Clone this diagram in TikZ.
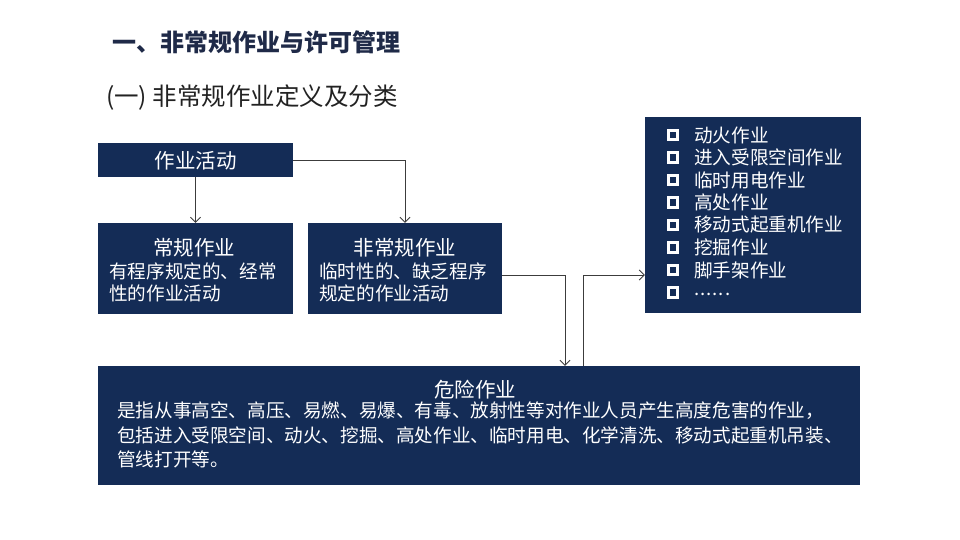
\documentclass[tikz,border=0pt]{standalone}
\usepackage{fontspec}
\setmainfont{Noto Sans CJK SC}
\usetikzlibrary{arrows.meta}
\definecolor{navy}{RGB}{20,44,86}
\definecolor{titlec}{RGB}{31,42,72}
\definecolor{subc}{RGB}{34,34,34}
\definecolor{linec}{RGB}{60,60,60}
\begin{document}
\begin{tikzpicture}[x=1pt,y=-1pt,
  box/.style={fill=navy, draw=none, inner sep=0},
  ltext/.style={text=white, inner sep=0, anchor=west, font=\fontsize{18.6}{22.5}\selectfont},
  htext/.style={text=white, inner sep=0, font=\fontsize{20.5}{24}\selectfont},
  conn/.style={draw=linec, line width=0.8pt, -{Straight Barb[length=5pt,width=10pt]}},
  chk/.style={draw=white, line width=2.6pt, minimum size=9.5pt, inner sep=0},
]
\useasboundingbox (0,0) rectangle (960,540);

% titles
\node[anchor=west, inner sep=0, text=titlec, font=\bfseries\fontsize{24}{28}\selectfont] (title) at (112,42) {一、非常规作业与许可管理};
\node[anchor=west, inner sep=0, text=subc, font=\fontsize{24.5}{30}\selectfont] (sub) at (106,98) {(一) 非常规作业定义及分类};

% boxes
\node[box, minimum width=195pt, minimum height=34pt] (act) at (195.5,160) {};
\node[box, minimum width=195pt, minimum height=91pt] (reg) at (195.5,268.5) {};
\node[box, minimum width=194pt, minimum height=91pt] (nonreg) at (405,268.5) {};
\node[box, minimum width=216pt, minimum height=196pt] (list) at (753,215) {};
\node[box, minimum width=762pt, minimum height=119pt] (danger) at (479,425.5) {};

% box texts
\node[htext] (actT) at (195.5,161) {作业活动};

\node[htext] (regH) at (194,248) {常规作业};
\node[ltext] (regL1) at (109,271) {有程序规定的、经常};
\node[ltext] (regL2) at (109,293) {性的作业活动};

\node[htext] (nonH) at (405,248) {非常规作业};
\node[ltext] (nonL1) at (319,271) {临时性的、缺乏程序};
\node[ltext] (nonL2) at (319,293) {规定的作业活动};

\node[htext] (danH) at (475,390) {危险作业};
\node[ltext] (danL1) at (117,411) {是指从事高空、高压、易燃、易爆、有毒、放射性等对作业人员产生高度危害的作业，};
\node[ltext] (danL2) at (117,435) {包括进入受限空间、动火、挖掘、高处作业、临时用电、化学清洗、移动式起重机吊装、};
\node[ltext] (danL3) at (117,459) {管线打开等。};

% list
\foreach \t [count=\i from 0] in {动火作业,进入受限空间作业,临时用电作业,高处作业,移动式起重机作业,挖掘作业,脚手架作业}{
  \node[chk] (chk\i) at (673,135+22.5*\i) {};
  \node[ltext] (item\i) at (694,135+22.5*\i) {\t};
}
\node[chk] (chk7) at (673,292.5) {};
\node[ltext] (item7) at (694,294) {.\kern1pt.\kern1pt.\kern1pt.\kern1pt.\kern1pt.};

% connectors
\coordinate (j1) at (565,275);
\coordinate (j2) at (583,275);
\draw[conn] (act.south) -- (reg.north);
\draw[conn] (act.east) -| (nonreg.north);
\draw[conn] (nonreg.east |- j1) -| (danger.north -| j1);
\draw[conn] (danger.north -| j2) |- (list.west |- j2);
\end{tikzpicture}
\end{document}
